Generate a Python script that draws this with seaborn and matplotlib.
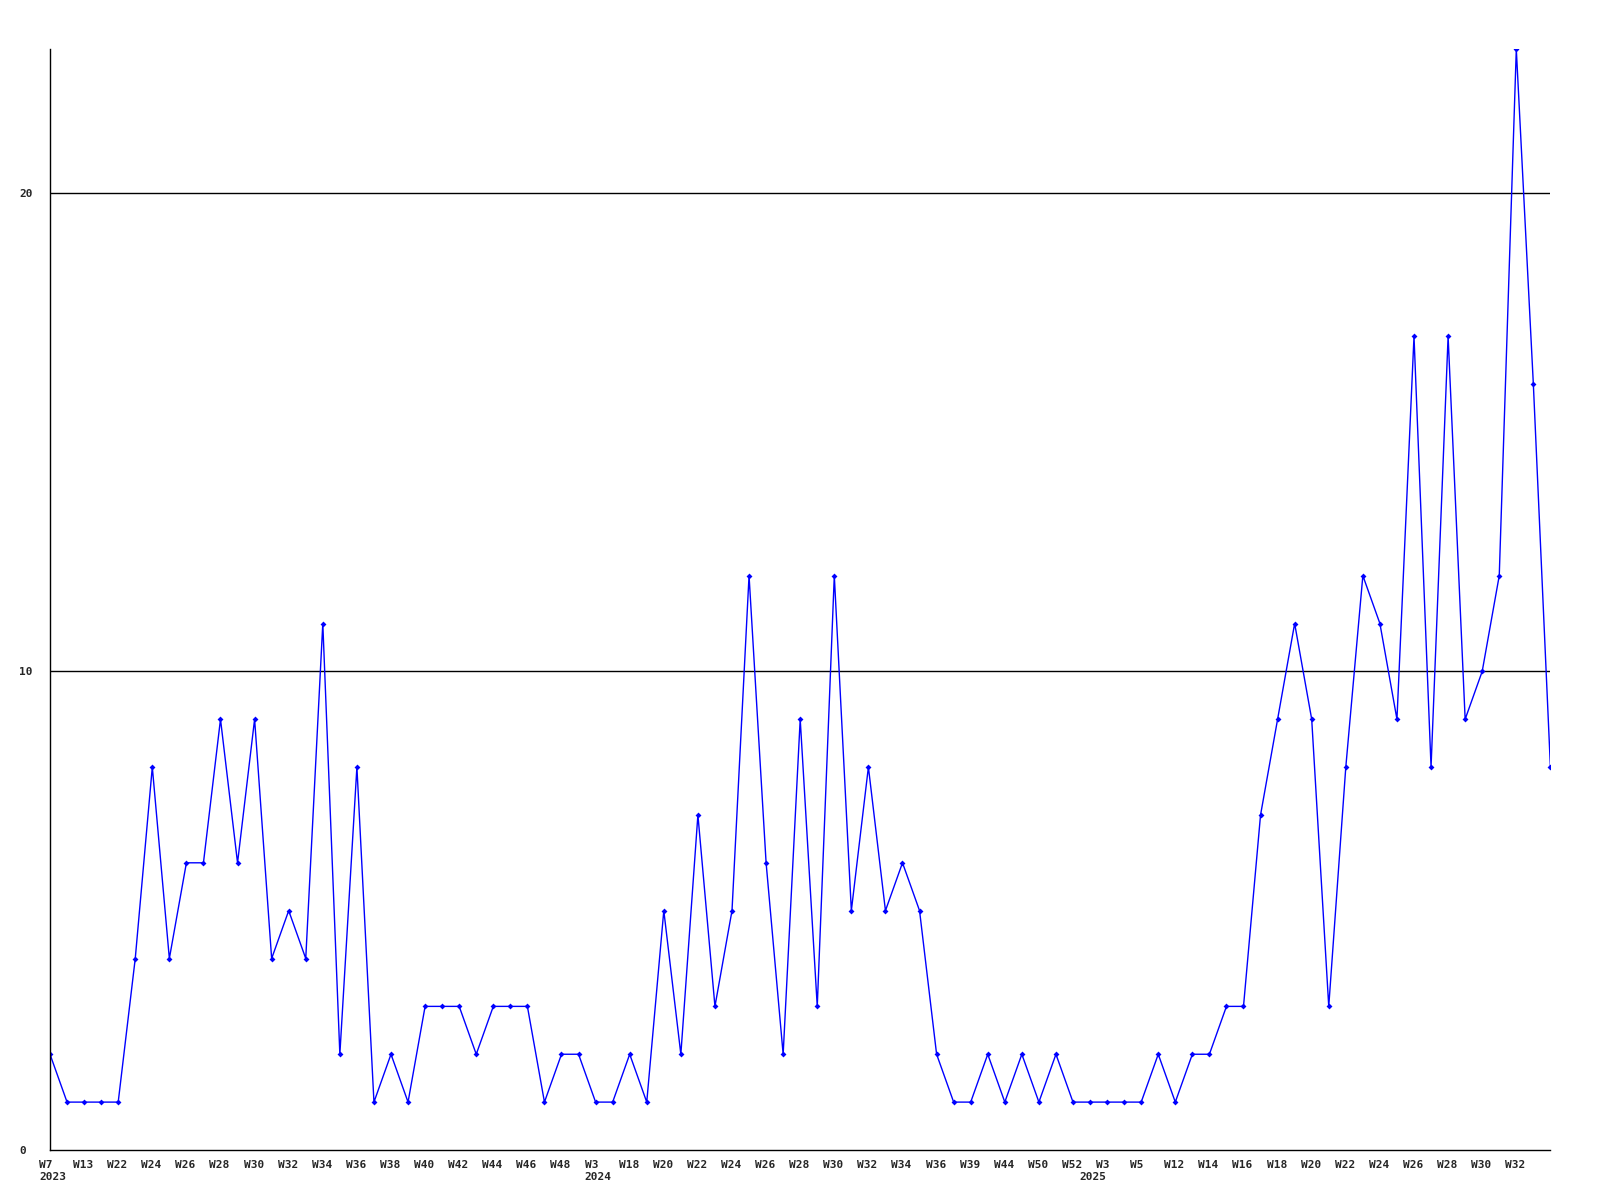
import numpy as np
import pandas as pd
import matplotlib
matplotlib.use("Agg")
import matplotlib.pyplot as plt
from matplotlib.transforms import ScaledTranslation, blended_transform_factory
import seaborn as sns

# weekly counts, one per week point
counts = [2, 1, 1, 1, 1, 4, 8, 4, 6, 6, 9, 6, 9, 4, 5, 4, 11, 2, 8, 1,
          2, 1, 3, 3, 3, 2, 3, 3, 3, 1, 2, 2, 1, 1, 2, 1, 5, 2, 7, 3,
          5, 12, 6, 2, 9, 3, 12, 5, 8, 5, 6, 5, 2, 1, 1, 2, 1, 2, 1, 2,
          1, 1, 1, 1, 1, 2, 1, 2, 2, 3, 3, 7, 9, 11, 9, 3, 8, 12, 11, 9,
          17, 8, 17, 9, 10, 12, 23, 16, 8]

# labels shown on every second point
week_labels = ["W7", "W13", "W22", "W24", "W26", "W28", "W30", "W32", "W34", "W36",
               "W38", "W40", "W42", "W44", "W46", "W48", "W3", "W18", "W20", "W22",
               "W24", "W26", "W28", "W30", "W32", "W34", "W36", "W39", "W44", "W50",
               "W52", "W3", "W5", "W12", "W14", "W16", "W18", "W20", "W22", "W24",
               "W26", "W28", "W30", "W32"]
years = ["2023", "2024", "2025"]
year_point_idx = [0, 32, 61]   # first point of each year

df = pd.DataFrame({"idx": np.arange(len(counts)), "count": counts})

sns.set_style("white")
plt.rcParams['font.family'] = ['DejaVu Sans Mono']

fig = plt.figure(figsize=(16, 12), dpi=100)
ax = fig.add_axes([0.03125, 0.0417, 0.969 - 0.03125, 0.959 - 0.0417])

sns.lineplot(data=df, x="idx", y="count", color="#0000ff", linewidth=1,
             marker="D", markersize=3, markeredgewidth=0, ax=ax)

ax.set_xlim(0, len(counts) - 1)
ax.set_ylim(0, 23)
ax.set_xlabel("")
ax.set_ylabel("")

for v in [10, 20]:
    ax.axhline(v, color="black", linewidth=1, zorder=0)

for side in ["top", "right"]:
    ax.spines[side].set_visible(False)
for side in ["left", "bottom"]:
    ax.spines[side].set_color("black")
    ax.spines[side].set_linewidth(1)

tick_pos = np.arange(0, 2 * len(week_labels), 2)
ax.set_xticks(tick_pos)
ax.set_xticklabels(week_labels, fontsize=8, fontweight="bold")
ax.set_yticks([0, 10, 20])
ax.set_yticklabels(["0", "10", "20"], fontsize=8, fontweight="bold")
ax.tick_params(axis="both", length=0)
ax.tick_params(axis="x", pad=7)

for lab in ax.get_xticklabels():
    lab.set_horizontalalignment("left")
    lab.set_transform(lab.get_transform() + ScaledTranslation(-11 / 100, 0, fig.dpi_scale_trans))
for lab in ax.get_yticklabels():
    lab.set_horizontalalignment("left")
    lab.set_transform(lab.get_transform() + ScaledTranslation(-26 / 100, 0, fig.dpi_scale_trans))

trans = blended_transform_factory(ax.transData, ax.transAxes) + \
    ScaledTranslation(-11 / 100, -27 / 100, fig.dpi_scale_trans)
for yr, pi in zip(years, year_point_idx):
    ax.text(pi, 0, yr, transform=trans, fontsize=8, fontweight="bold",
            ha="left", va="center")

fig.savefig("out.png", dpi=100)
